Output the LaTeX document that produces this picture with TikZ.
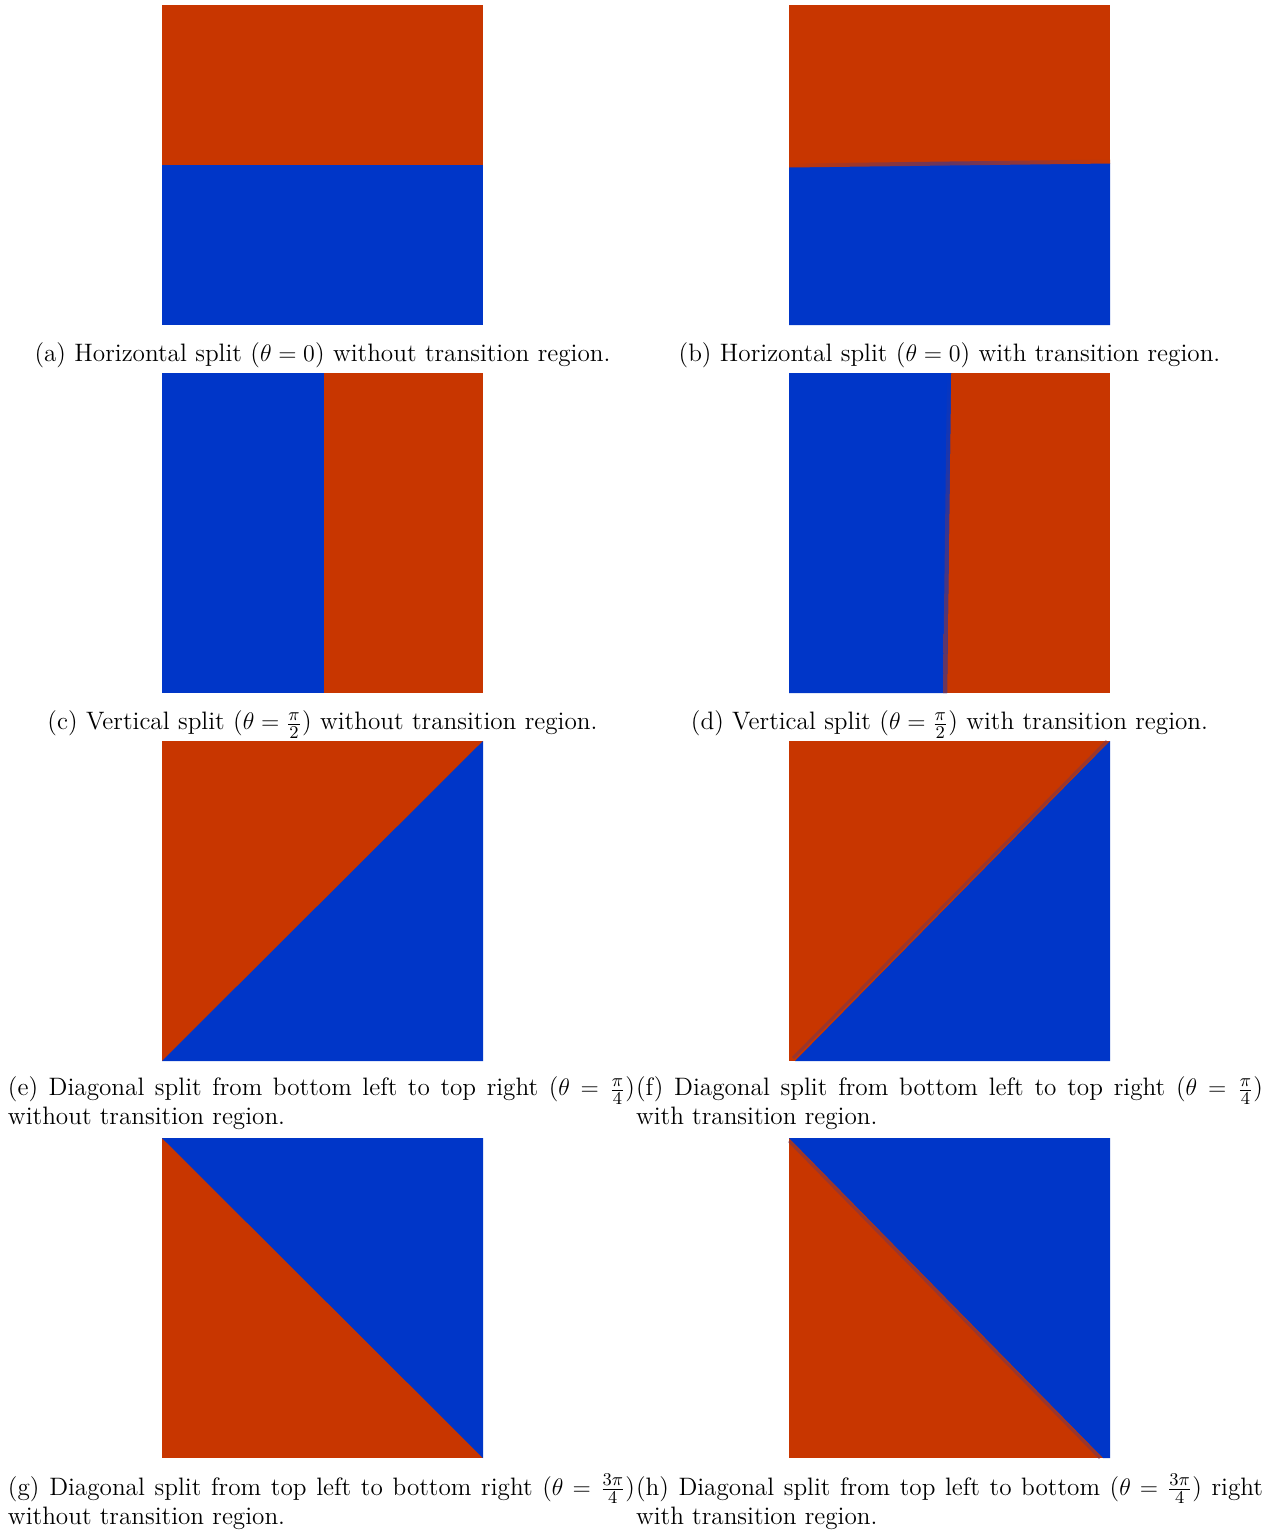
\documentclass[12pt,tikz,border=0pt]{standalone}
\usepackage{tikz}
\definecolor{splitred}{RGB}{200,54,0}
\definecolor{splitblue}{RGB}{0,54,200}
\colorlet{splitmix}{splitred!55!splitblue}
\newcommand{\capfont}{\fontsize{12.6}{14.5}\selectfont\thickmuskip=5mu plus 0mu minus 0mu}

\begin{document}
\begin{tikzpicture}[x=0.5pt, y=-0.5pt]
        \tikzstyle{every node}=[inner sep=0pt, outer sep=0pt]
        \tikzstyle{subcap}=[text width=313.5pt, align=center, anchor=north, font=\capfont]
        \tikzstyle{longcap}=[subcap, align=justify, font=\fontsize{12.6}{14.5}\selectfont]
        \tikzstyle{blur}=[line width=1.5pt, draw=splitmix, draw opacity=0.5]
        \useasboundingbox (0,0) rectangle (1276,1532);
        % row 1: horizontal
        \fill[splitred] (162,5) rectangle (483,165);
        \fill[splitblue] (162,165) rectangle (483,325);
        \fill[splitred] (789,5) rectangle (1110,325);
        \fill[splitblue] (789,167) -- (1110,163) -- (1110,325) -- (789,325) -- cycle;
        \shade[left color=splitred, right color=splitred, middle color=splitred!50!splitblue] (789,167.5) -- (1110,163.5) -- (1110,159.5) -- (789,163.5) -- cycle;
        \node[subcap] (capa) at (322.5,343) {(a) Horizontal split ($\theta = 0$) without transition region.};
        \node[subcap] (capb) at (949.5,343) {(b) Horizontal split ($\theta = 0$) with transition region.};
        % row 2: vertical
        \fill[splitblue] (162,373) rectangle (324,693);
        \fill[splitred] (324,373) rectangle (483,693);
        \fill[splitred] (789,373) rectangle (1110,693);
        \fill[splitblue] (789,373) -- (951,373) -- (947,693) -- (789,693) -- cycle;
        \shade[top color=splitblue, bottom color=splitmix] (947,373) -- (951,373) -- (947,693) -- (943,693) -- cycle;
        \node[subcap] (capc) at (322.5,711) {(c) Vertical split ($\theta = \frac{\pi}{2}$) without transition region.};
        \node[subcap] (capd) at (949.5,711) {(d) Vertical split ($\theta = \frac{\pi}{2}$) with transition region.};
        % row 3: bottom left to top right
        \fill[splitred] (162,741) rectangle (483,1061);
        \fill[splitblue] (162,1061) -- (483,741) -- (483,1061) -- cycle;
        \fill[splitred] (789,741) rectangle (1110,1061);
        \fill[splitblue] (795,1061) -- (1110,741) -- (1110,1061) -- cycle;
        \draw[blur] (793,1058) -- (1107,741);
        \node[longcap] (cape) at (321.5,1077) {(e) Diagonal split from bottom left to top right ($\theta = \frac{\pi}{4}$)\linebreak without transition region.};
        \node[longcap] (capf) at (949.5,1077) {(f) Diagonal split from bottom left to top right ($\theta = \frac{\pi}{4}$)\linebreak with transition region.};
        % row 4: top left to bottom right
        \fill[splitred] (162,1138) rectangle (483,1458);
        \fill[splitblue] (162,1138) -- (483,1138) -- (483,1458) -- cycle;
        \fill[splitred] (789,1138) rectangle (1110,1458);
        \fill[splitblue] (789,1138) -- (1110,1138) -- (1110,1458) -- (1103,1458) -- cycle;
        \draw[blur] (789,1141) -- (1100,1458);
        \node[longcap] (capg) at (321.5,1474) {(g) Diagonal split from top left to bottom right ($\theta = \frac{3\pi}{4}$)\linebreak without transition region.};
        \node[longcap] (caph) at (949.5,1474) {(h) Diagonal split from top left to bottom ($\theta = \frac{3\pi}{4}$) right\linebreak with transition region.};
    \end{tikzpicture}
\end{document}
